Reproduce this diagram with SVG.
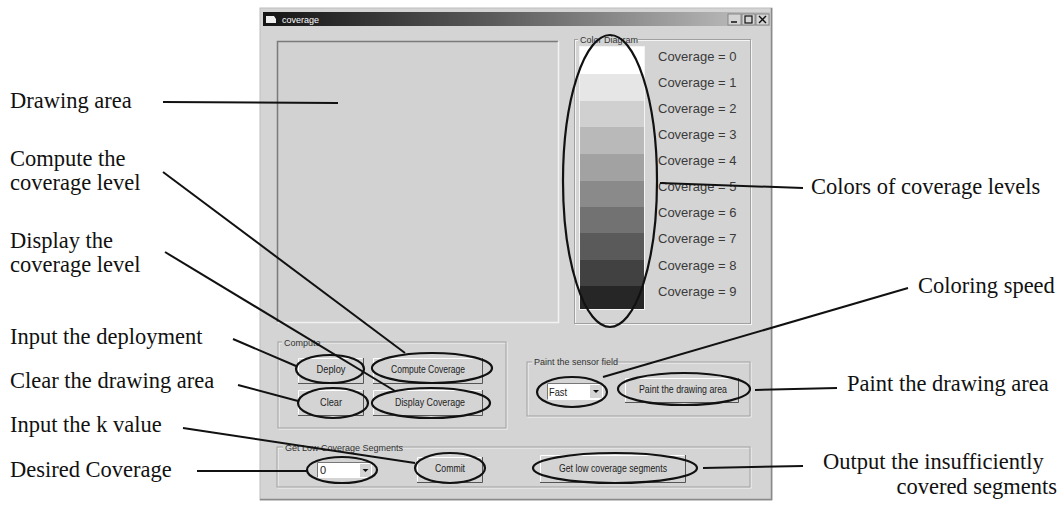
<svg xmlns="http://www.w3.org/2000/svg" width="1063" height="509" viewBox="0 0 1063 509">
<defs>
<linearGradient id="tb" x1="0" y1="0" x2="1" y2="0">
<stop offset="0" stop-color="#141414"/>
<stop offset="0.45" stop-color="#5a5a5a"/>
<stop offset="1" stop-color="#c4c4c4"/>
</linearGradient>
<style>
.lbl{font-family:"Liberation Serif","Times New Roman",serif;font-size:22.5px;fill:#111}
.ui{font-family:"Liberation Sans",Arial,sans-serif;font-size:11px;fill:#222}
.sm{font-family:"Liberation Sans",Arial,sans-serif;font-size:9px;fill:#333}
.cov{font-family:"Liberation Sans",Arial,sans-serif;font-size:13px;fill:#3a3a3a}
.btn{fill:#d4d4d4;stroke:none}
.grp{fill:none;stroke:#a0a0a0;stroke-width:1}
.grpw{fill:none;stroke:#f4f4f4;stroke-width:1}
.hi{fill:none;stroke:#111;stroke-width:2.2}
.ln{fill:none;stroke:#111;stroke-width:2}
</style>
</defs>
<rect x="0" y="0" width="1063" height="509" fill="#fff"/>

<g id="window">
<rect x="260" y="8" width="512" height="492" fill="#d4d4d4" stroke="#bdbdbd"/>
<line x1="771.5" y1="8" x2="771.5" y2="500" stroke="#8a8a8a" stroke-width="1.5"/>
<line x1="260" y1="499.5" x2="772" y2="499.5" stroke="#8a8a8a" stroke-width="1.5"/>
<rect x="263" y="12" width="507" height="14" fill="url(#tb)"/>
<path d="M266 16 h8 l2 3 v4 h-10z" fill="#eee"/>
<text x="282" y="22.5" style="font-family:'Liberation Sans',Arial,sans-serif;font-size:9px;fill:#fff">coverage</text>
<g>
<rect x="728" y="14" width="13" height="11" fill="#d4d4d4" stroke="#777" stroke-width="0.8"/>
<line x1="731" y1="22" x2="737" y2="22" stroke="#111" stroke-width="1.5"/>
<rect x="742" y="14" width="13" height="11" fill="#d4d4d4" stroke="#777" stroke-width="0.8"/>
<rect x="745" y="16" width="7" height="7" fill="none" stroke="#111" stroke-width="1.2"/>
<rect x="756" y="14" width="13" height="11" fill="#d4d4d4" stroke="#777" stroke-width="0.8"/>
<path d="M759 16 l7 7 M766 16 l-7 7" stroke="#111" stroke-width="1.4"/>
</g>
</g>

<g id="drawing-area">
<rect x="277" y="41" width="281" height="282" fill="#d2d2d2"/>
<path d="M277.5 322 V41.5 H558" fill="none" stroke="#7a7a7a" stroke-width="1.5"/>
<path d="M277.5 322.5 H558.5 V41.5" fill="none" stroke="#f2f2f2" stroke-width="1.5"/>
</g>

<g id="color-diagram">
<rect x="574.5" y="39.5" width="176" height="284" class="grpw" transform="translate(1,1)"/>
<rect x="574.5" y="39.5" width="176" height="284" class="grp"/>
<rect x="578" y="37" width="60" height="6" fill="#d4d4d4"/>
<text x="580" y="43" class="sm">Color Diagram</text>
<rect x="579" y="46" width="66" height="264" fill="#f4f4f4"/>
<rect x="580" y="47" width="64" height="27" fill="#ffffff"/>
<rect x="580" y="74" width="64" height="27" fill="#e6e6e6"/>
<rect x="580" y="101" width="64" height="26" fill="#d0d0d0"/>
<rect x="580" y="127" width="64" height="27" fill="#b9b9b9"/>
<rect x="580" y="154" width="64" height="27" fill="#a2a2a2"/>
<rect x="580" y="181" width="64" height="26" fill="#8a8a8a"/>
<rect x="580" y="207" width="64" height="26" fill="#727272"/>
<rect x="580" y="233" width="64" height="27" fill="#5a5a5a"/>
<rect x="580" y="260" width="64" height="26" fill="#414141"/>
<rect x="580" y="286" width="64" height="23" fill="#262626"/>
<text x="658" y="61" class="cov">Coverage = 0</text>
<text x="658" y="87" class="cov">Coverage = 1</text>
<text x="658" y="113" class="cov">Coverage = 2</text>
<text x="658" y="139" class="cov">Coverage = 3</text>
<text x="658" y="165" class="cov">Coverage = 4</text>
<text x="658" y="191" class="cov">Coverage = 5</text>
<text x="658" y="217" class="cov">Coverage = 6</text>
<text x="658" y="243" class="cov">Coverage = 7</text>
<text x="658" y="270" class="cov">Coverage = 8</text>
<text x="658" y="296" class="cov">Coverage = 9</text>
</g>

<g id="compute-group">
<rect x="279" y="343" width="228" height="86" class="grpw"/>
<rect x="278" y="342" width="228" height="86" class="grp"/>
<rect x="282" y="338" width="36" height="7" fill="#d4d4d4"/>
<text x="284" y="346" class="sm">Compute</text>
</g>

<g id="btn-deploy">
<rect x="298" y="358" width="65" height="25" class="btn"/>
<path d="M298.5 382.5 V358.5 H362.5" fill="none" stroke="#fff"/>
<path d="M298 383.5 H363.5 V358" fill="none" stroke="#555"/>
<text x="331" y="373" class="ui" text-anchor="middle" textLength="29" lengthAdjust="spacingAndGlyphs">Deploy</text>
</g>
<g id="btn-compute-coverage">
<rect x="373" y="358" width="109" height="25" class="btn"/>
<path d="M373.5 382.5 V358.5 H481.5" fill="none" stroke="#fff"/>
<path d="M373 383.5 H482.5 V358" fill="none" stroke="#555"/>
<text x="428" y="373" class="ui" text-anchor="middle" textLength="74" lengthAdjust="spacingAndGlyphs">Compute Coverage</text>
</g>
<g id="btn-clear">
<rect x="298" y="390" width="65" height="25" class="btn"/>
<path d="M298.5 414.5 V390.5 H362.5" fill="none" stroke="#fff"/>
<path d="M298 415.5 H363.5 V390" fill="none" stroke="#555"/>
<text x="331" y="406" class="ui" text-anchor="middle" textLength="22" lengthAdjust="spacingAndGlyphs">Clear</text>
</g>
<g id="btn-display-coverage">
<rect x="373" y="390" width="109" height="25" class="btn"/>
<path d="M373.5 414.5 V390.5 H481.5" fill="none" stroke="#fff"/>
<path d="M373 415.5 H482.5 V390" fill="none" stroke="#555"/>
<text x="430" y="406" class="ui" text-anchor="middle" textLength="70" lengthAdjust="spacingAndGlyphs">Display Coverage</text>
</g>

<g id="paint-group">
<rect x="528" y="363" width="223" height="54" class="grpw"/>
<rect x="527" y="362" width="223" height="54" class="grp"/>
<rect x="532" y="358" width="82" height="7" fill="#d4d4d4"/>
<text x="534" y="365" class="sm">Paint the sensor field</text>
</g>
<g id="combo-fast">
<rect x="547" y="383" width="56" height="17" fill="#fff"/>
<path d="M547.5 399.5 V383.5 H602.5" fill="none" stroke="#777"/>
<rect x="590" y="385" width="12" height="13" fill="#d4d4d4"/>
<path d="M593 390 h6 l-3 3z" fill="#111"/>
<text x="549" y="396" class="ui" textLength="18" lengthAdjust="spacingAndGlyphs">Fast</text>
</g>
<g id="btn-paint">
<rect x="625" y="378" width="113" height="24" class="btn"/>
<path d="M625.5 401.5 V378.5 H737.5" fill="none" stroke="#fff"/>
<path d="M625 402.5 H738.5 V378" fill="none" stroke="#555"/>
<text x="683" y="393" class="ui" text-anchor="middle" textLength="88" lengthAdjust="spacingAndGlyphs">Paint the drawing area</text>
</g>

<g id="low-coverage-group">
<rect x="278" y="448" width="473" height="40" class="grpw"/>
<rect x="277" y="447" width="473" height="40" class="grp"/>
<rect x="283" y="443" width="106" height="7" fill="#d4d4d4"/>
<text x="285" y="451" class="sm">Get Low Coverage Segments</text>
</g>
<g id="combo-k">
<rect x="317" y="462" width="55" height="16" fill="#fff"/>
<path d="M317.5 477.5 V462.5 H371.5" fill="none" stroke="#777"/>
<rect x="360" y="464" width="11" height="13" fill="#d4d4d4"/>
<path d="M362.5 469 h6 l-3 3z" fill="#111"/>
<text x="320" y="474" class="ui">0</text>
</g>
<g id="btn-commit">
<rect x="417" y="457" width="65" height="25" class="btn"/>
<path d="M417.5 481.5 V457.5 H481.5" fill="none" stroke="#fff"/>
<path d="M417 482.5 H482.5 V457" fill="none" stroke="#555"/>
<text x="450" y="472" class="ui" text-anchor="middle" textLength="30" lengthAdjust="spacingAndGlyphs">Commit</text>
</g>
<g id="btn-get-low">
<rect x="540" y="455" width="145" height="27" class="btn"/>
<path d="M540.5 481.5 V455.5 H684.5" fill="none" stroke="#fff"/>
<path d="M540 482.5 H685.5 V455" fill="none" stroke="#555"/>
<text x="613" y="472" class="ui" text-anchor="middle" textLength="108" lengthAdjust="spacingAndGlyphs">Get low coverage segments</text>
</g>

<g id="highlights">
<ellipse cx="610" cy="181" rx="47" ry="146" class="hi"/>
<ellipse cx="330" cy="369" rx="34" ry="14" class="hi"/>
<ellipse cx="432" cy="368" rx="60" ry="15" class="hi"/>
<ellipse cx="333" cy="403" rx="35" ry="15" class="hi"/>
<ellipse cx="431" cy="403" rx="59" ry="15" class="hi"/>
<ellipse cx="342" cy="470" rx="35" ry="13" class="hi"/>
<ellipse cx="450" cy="468" rx="35" ry="15" class="hi"/>
<ellipse cx="572" cy="392" rx="35" ry="15" class="hi"/>
<ellipse cx="684" cy="389" rx="66" ry="16" class="hi"/>
<ellipse cx="615" cy="468" rx="82" ry="15" class="hi"/>
</g>

<g id="connectors">
<line x1="163" y1="102" x2="338" y2="103" class="ln"/>
<line x1="163" y1="172" x2="405" y2="353" class="ln"/>
<line x1="165" y1="252" x2="395" y2="391" class="ln"/>
<line x1="233" y1="339" x2="296" y2="366" class="ln"/>
<line x1="238" y1="385" x2="298" y2="401" class="ln"/>
<line x1="183" y1="428" x2="415" y2="463" class="ln"/>
<line x1="197" y1="471" x2="307" y2="471" class="ln"/>
<line x1="660" y1="183" x2="803" y2="188" class="ln"/>
<line x1="603" y1="377" x2="908" y2="288" class="ln"/>
<line x1="755" y1="390" x2="837" y2="388" class="ln"/>
<line x1="703" y1="468" x2="803" y2="466" class="ln"/>
</g>

<g id="label-drawing-area"><text x="10" y="108" class="lbl">Drawing area</text></g>
<g id="label-compute"><text x="10" y="166" class="lbl">Compute the</text><text x="10" y="190" class="lbl">coverage level</text></g>
<g id="label-display"><text x="10" y="248" class="lbl">Display the</text><text x="10" y="272" class="lbl">coverage level</text></g>
<g id="label-deploy"><text x="10" y="344" class="lbl">Input the deployment</text></g>
<g id="label-clear"><text x="10" y="388" class="lbl">Clear the drawing area</text></g>
<g id="label-k"><text x="10" y="432" class="lbl">Input the k value</text></g>
<g id="label-desired"><text x="10" y="477" class="lbl">Desired Coverage</text></g>
<g id="label-colors"><text x="811" y="194" class="lbl">Colors of coverage levels</text></g>
<g id="label-speed"><text x="918" y="293" class="lbl">Coloring speed</text></g>
<g id="label-paint"><text x="847" y="391" class="lbl">Paint the drawing area</text></g>
<g id="label-output"><text x="823" y="469" class="lbl">Output the insufficiently</text><text x="1057" y="494" class="lbl" text-anchor="end">covered segments</text></g>
</svg>
